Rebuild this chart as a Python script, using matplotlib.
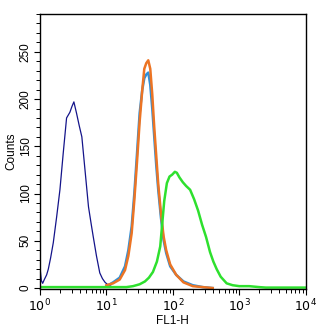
import matplotlib
matplotlib.use("Agg")
import matplotlib.pyplot as plt
from matplotlib.ticker import MultipleLocator, LogLocator, NullFormatter

plt.rcParams['font.family'] = ['Liberation Sans', 'DejaVu Sans']

# log10(FL1-H) positions and counts for each histogram
navy_lx = [0.0, 0.02, 0.04, 0.065, 0.10, 0.125, 0.16, 0.20, 0.25, 0.30, 0.35, 0.40, 0.45,
           0.48, 0.51, 0.55, 0.59, 0.63, 0.68, 0.73, 0.77, 0.80, 0.85, 0.90, 0.94, 0.98,
           1.03, 1.1]
navy_y = [22, 8, 5, 9, 14, 20, 32, 48, 75, 104, 143, 180, 186, 192, 197, 185, 172, 160,
          123, 86, 68, 55, 34, 16, 10, 6, 3, 1]

lblue_lx = [1.0, 1.1, 1.2, 1.28, 1.33, 1.38, 1.42, 1.46, 1.50, 1.54, 1.57, 1.60, 1.63,
            1.66, 1.69, 1.72, 1.75, 1.78, 1.82, 1.86, 1.90, 1.96, 2.05, 2.16, 2.3, 2.45, 2.6]
lblue_y = [2, 6, 11, 23, 40, 65, 100, 142, 185, 210, 222, 226, 228, 215, 190, 160, 130,
           104, 75, 51, 37, 23, 14, 7, 3, 1, 0]

orange_lx = [1.0, 1.1, 1.2, 1.28, 1.33, 1.38, 1.42, 1.46, 1.50, 1.54, 1.57, 1.60, 1.63,
             1.66, 1.69, 1.72, 1.75, 1.78, 1.82, 1.86, 1.90, 1.96, 2.05, 2.16, 2.3, 2.45, 2.6]
orange_y = [3, 5, 9, 19, 34, 58, 93, 133, 176, 210, 232, 238, 241, 232, 205, 170, 140,
            110, 80, 55, 40, 25, 14, 6, 2, 1, 0]

green_lx = [0.0, 1.0, 1.3, 1.40, 1.50, 1.58, 1.64, 1.70, 1.76, 1.81, 1.84, 1.87, 1.91,
            1.95, 1.99, 2.03, 2.06, 2.10, 2.15, 2.20, 2.26, 2.32, 2.38, 2.44, 2.50, 2.56,
            2.61, 2.66, 2.72, 2.81, 2.9, 3.0, 3.15, 3.3, 3.4, 4.0]
green_y = [1, 1, 1, 2, 4, 7, 11, 17, 28, 44, 68, 92, 111, 118, 120, 123, 122, 117, 112,
           108, 104, 94, 82, 67, 54, 38, 28, 20, 12, 5, 3, 2, 2, 1, 0.5, 0.5]

xticks = [1, 10, 100, 1000, 10000]
xtick_labels = [r'$10^{0}$', r'$10^{1}$', r'$10^{2}$', r'$10^{3}$', r'$10^{4}$']
yticks = [0, 50, 100, 150, 200, 250]

fig = plt.figure(figsize=(3.3, 3.33), dpi=100)
ax = fig.add_axes([40/330, 1 - 289/333, 265.7/330, 275/333])

def lin(lx):
    return [10 ** v for v in lx]

ax.plot(lin(navy_lx), navy_y, color='#14148a', lw=0.9)
ax.plot(lin(lblue_lx), lblue_y, color='#2f8fd8', lw=1.8)
ax.plot(lin(orange_lx), orange_y, color='#ec7424', lw=1.8)
ax.plot(lin(green_lx), green_y, color='#2ee02e', lw=1.8)

ax.set_xscale('log')
ax.set_xlim(1, 10000)
ax.set_ylim(-1, 290)
ax.set_xticks(xticks)
ax.set_xticklabels(xtick_labels, fontsize=9)
ax.xaxis.set_minor_locator(LogLocator(base=10, subs=range(2, 10)))
ax.xaxis.set_minor_formatter(NullFormatter())
ax.set_yticks(yticks)
ax.set_yticklabels([str(v) for v in yticks], fontsize=8.5, rotation=90, va='center')
ax.yaxis.set_minor_locator(MultipleLocator(10))

ax.tick_params(which='major', direction='out', length=4, width=0.8, pad=2)
ax.tick_params(which='minor', direction='out', length=3, width=0.7)
for s in ax.spines.values():
    s.set_linewidth(1.0)

ax.set_xlabel('FL1-H', fontsize=8.5, labelpad=1)
ax.set_ylabel('Counts', fontsize=8.5, labelpad=2)

fig.savefig('out.png', dpi=100)
